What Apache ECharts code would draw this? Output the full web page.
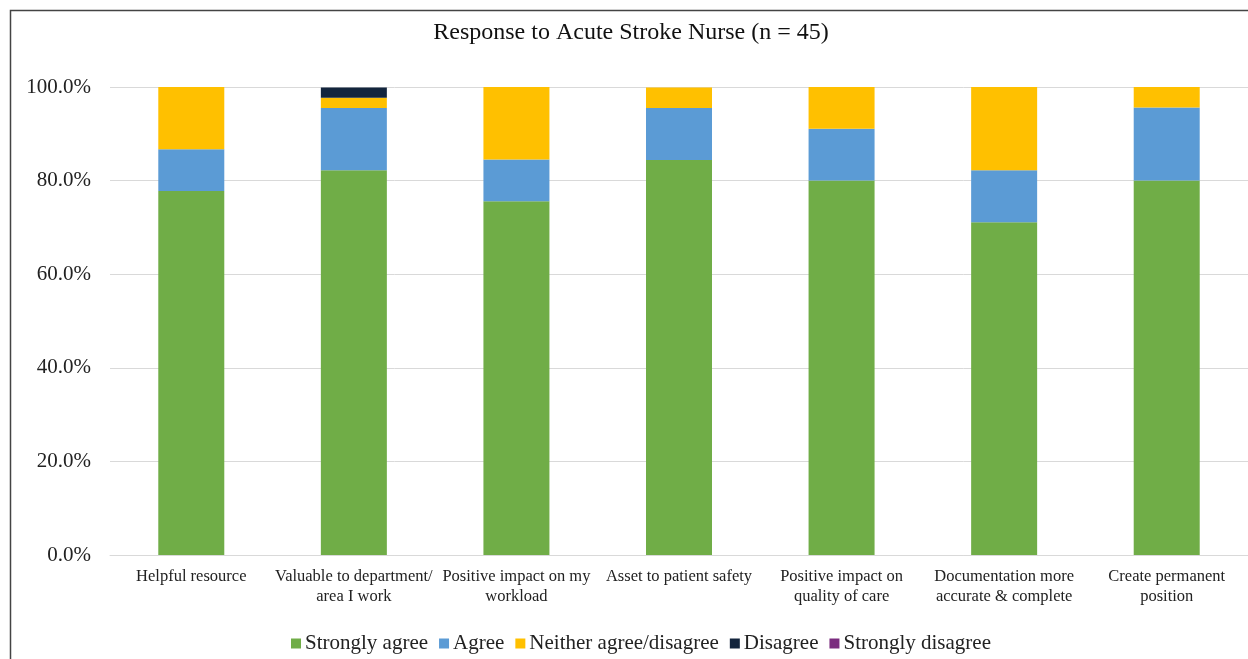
<!DOCTYPE html>
<html>
<head>
<meta charset="utf-8">
<script src="https://cdn.jsdelivr.net/npm/echarts@6/dist/echarts.min.js"></script>
<style>
  html, body { margin: 0; padding: 0; background: #fff; }
  #chart { width: 1248px; height: 659px; }
</style>
</head>
<body>
<div id="chart"></div>
<script>
// statements, wrapped the way the original labels wrap
const categories = [
  'Helpful resource',
  'Valuable to department/\narea I work',
  'Positive impact on my\nworkload',
  'Asset to patient safety',
  'Positive impact on\nquality of care',
  'Documentation more\naccurate & complete',
  'Create permanent\nposition'
];

// percent of respondents (n = 45)
const stronglyAgree = [77.8, 82.2, 75.6, 84.4, 80.0, 71.1, 80.0];
const agree = [8.9, 13.3, 8.9, 11.1, 11.1, 11.1, 15.6];
const neither = [13.3, 2.2, 15.6, 4.4, 8.9, 17.8, 4.4];
const disagree = [0, 2.2, 0, 0, 0, 0, 0];
const stronglyDisagree = [0, 0, 0, 0, 0, 0, 0];

const seriesNames = ['Strongly agree', 'Agree', 'Neither agree/disagree', 'Disagree', 'Strongly disagree'];
const seriesColors = ['#70AD47', '#5B9BD5', '#FFC000', '#13253D', '#7B2C7F'];
const yTicks = [0, 20, 40, 60, 80, 100];

const font = '"Liberation Serif", "Times New Roman", serif';

const chart = echarts.init(document.getElementById('chart'));

const makeSeries = (name, data, color) => ({
  name: name,
  type: 'bar',
  stack: 'total',
  barWidth: 66,
  data: data,
  itemStyle: { color: color },
  emphasis: { disabled: true }
});

const option = {
  animation: false,
  backgroundColor: '#fff',
  title: {
    text: 'Response to Acute Stroke Nurse (n = 45)',
    left: 626,
    top: 16,
    textAlign: 'center',
    textStyle: { fontFamily: font, fontSize: 24, fontWeight: 'normal', color: '#111' }
  },
  graphic: [{
    type: 'rect',
    shape: { x: 10.5, y: 10.5, width: 1260, height: 700 },
    style: { fill: 'none', stroke: '#444', lineWidth: 1.5 },
    silent: true
  }],
  legend: {
    data: seriesNames,
    left: 286,
    top: 628,
    icon: 'rect',
    itemWidth: 10,
    itemHeight: 10,
    itemGap: 11,
    textStyle: { fontFamily: font, fontSize: 21, color: '#222', padding: [0, 0, 0, -1] }
  },
  grid: {
    left: 110,
    right: -2,
    top: 87,
    bottom: 104
  },
  xAxis: {
    type: 'category',
    data: categories,
    axisLine: { lineStyle: { color: '#d9d9d9' } },
    axisTick: { show: false },
    axisLabel: {
      interval: 0,
      fontFamily: font,
      fontSize: 16.5,
      color: '#222',
      lineHeight: 20,
      margin: 12
    }
  },
  yAxis: {
    type: 'value',
    min: yTicks[0],
    max: yTicks[yTicks.length - 1],
    interval: 20,
    axisLine: { show: false },
    axisTick: { show: false },
    splitLine: { lineStyle: { color: '#d9d9d9' } },
    axisLabel: {
      fontFamily: font,
      fontSize: 21,
      color: '#222',
      margin: 19,
      formatter: v => v.toFixed(1) + '%'
    }
  },
  series: [
    makeSeries(seriesNames[0], stronglyAgree, seriesColors[0]),
    makeSeries(seriesNames[1], agree, seriesColors[1]),
    makeSeries(seriesNames[2], neither, seriesColors[2]),
    makeSeries(seriesNames[3], disagree, seriesColors[3]),
    makeSeries(seriesNames[4], stronglyDisagree, seriesColors[4])
  ]
};

chart.setOption(option);
</script>
</body>
</html>
